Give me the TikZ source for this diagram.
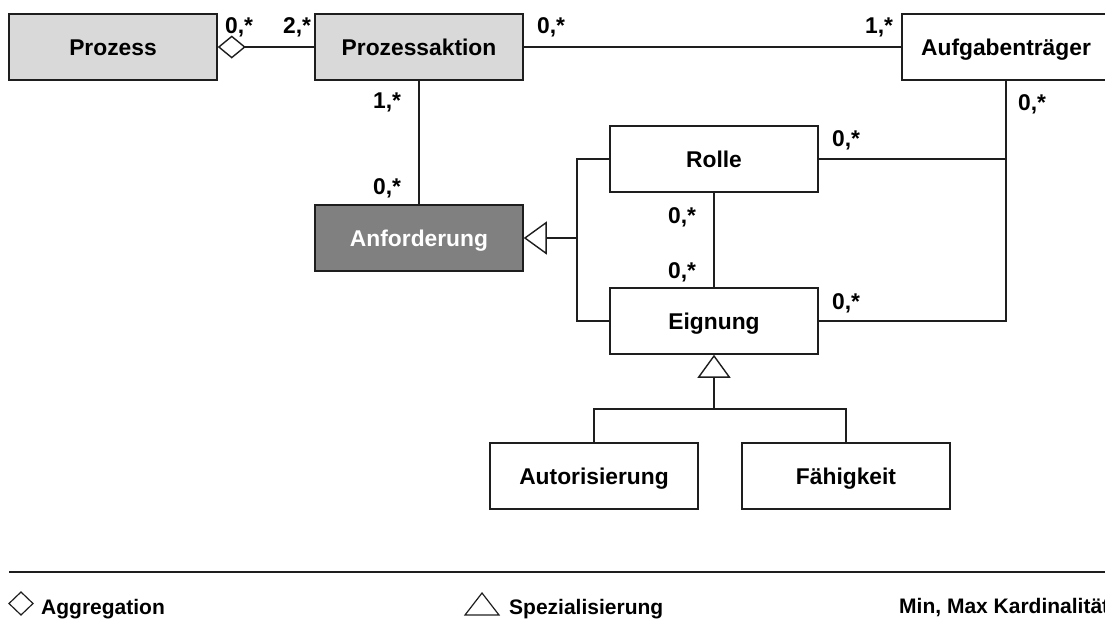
\documentclass[tikz,border=0pt]{standalone}
\usepackage{fontspec}
\setmainfont{Liberation Sans}
\usetikzlibrary{arrows.meta}
\definecolor{lightgrey}{RGB}{217,217,217}
\definecolor{darkgrey}{RGB}{128,128,128}
\definecolor{ink}{RGB}{30,30,30}
\begin{document}
\begin{tikzpicture}[x=1pt,y=-1pt,
  font=\fontsize{22.8}{27}\selectfont\bfseries,
  cls/.style={draw=ink, line width=1.5pt, minimum width=208pt, minimum height=66pt,
    inner sep=0pt, text height=16.3pt, text depth=0pt, fill=white},
  greycls/.style={cls, fill=lightgrey},
  darkcls/.style={cls, fill=darkgrey, text=white},
  conn/.style={line width=1.4pt, draw=ink},
  agg/.style={-{Diamond[open,length=28pt,width=23pt]}},
  gen/.style={-{Triangle[open,length=23pt,width=33pt]}},
  mult/.style={anchor=base west, inner sep=0pt},
  legend/.style={anchor=base west, inner sep=0pt, font=\fontsize{21}{25}\selectfont\bfseries},
]
\useasboundingbox (0,0) rectangle (1105,619);

% classes
\node[greycls] (prozess) at (113,47) {Prozess};
\node[greycls] (aktion) at (419,47) {Prozessaktion};
\node[cls] (traeger) at (1006,47) {Aufgabenträger};
\node[darkcls] (anf) at (419,238) {Anforderung};
\node[cls] (rolle) at (714,159) {Rolle};
\node[cls] (eignung) at (714,321) {Eignung};
\node[cls] (autor) at (594,476) {Autorisierung};
\node[cls] (faehig) at (846,476) {Fähigkeit};

% associations
\draw[conn, agg] (aktion.west) -- (prozess.east);
\draw[conn] (aktion.east) -- (traeger.west);
\draw[conn] (aktion.south) -- (anf.north);
\draw[conn] (rolle.south) -- (eignung.north);
\draw[conn] (rolle.east) -| (traeger.south);
\draw[conn] (eignung.east) -| (traeger.south);

% specialisations
\coordinate (gsplit) at (577,238);
\draw[conn, gen] (gsplit) -- (anf.east);
\draw[conn] (rolle.west) -| (gsplit) |- (eignung.west);
\coordinate (esplit) at (714,409);
\draw[conn, gen] (esplit) -- (eignung.south);
\draw[conn] (autor.north) |- (esplit) -| (faehig.north);

% multiplicities
\node[mult] (m1) at (225,33) {0,*};
\node[mult] (m2) at (283,33) {2,*};
\node[mult] (m3) at (537,33) {0,*};
\node[mult] (m4) at (865,33) {1,*};
\node[mult] (m5) at (1018,110) {0,*};
\node[mult] (m6) at (373,108) {1,*};
\node[mult] (m7) at (373,194) {0,*};
\node[mult] (m8) at (832,146) {0,*};
\node[mult] (m9) at (668,223) {0,*};
\node[mult] (m10) at (668,278) {0,*};
\node[mult] (m11) at (832,309) {0,*};

% legend
\draw[line width=2pt, draw=ink] (9,572) -- (1105,572);
\draw[line width=1.2pt, draw=ink] (9,603.5) -- (21,592) -- (33,603.5) -- (21,615) -- cycle;
\node[legend] (lagg) at (41,614) {Aggregation};
\draw[line width=1.2pt, draw=ink] (465,615) -- (499,615) -- (482,593) -- cycle;
\node[legend] (lspec) at (509,614) {Spezialisierung};
\node[legend] (lcard) at (899,613) {Min, Max Kardinalität};
\end{tikzpicture}
\end{document}
